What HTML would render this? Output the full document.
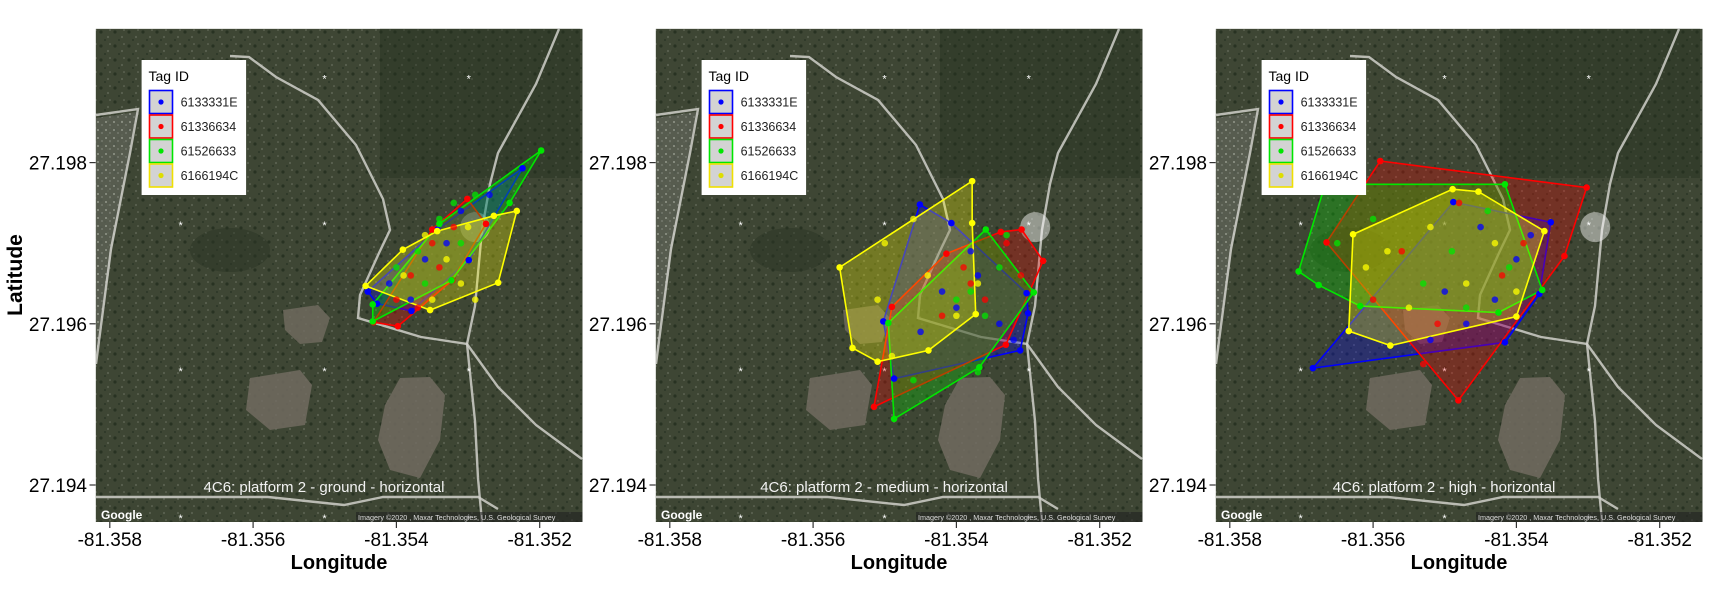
<!DOCTYPE html>
<html><head><meta charset="utf-8">
<style>
html,body{margin:0;padding:0;background:#fff;}
svg{display:block;font-family:"Liberation Sans",Arial,sans-serif;}
</style></head>
<body>
<svg id="chart" width="1712" height="595" viewBox="0 0 1712 595" xmlns="http://www.w3.org/2000/svg">
<defs>
<clipPath id="mapclip"><rect x="95.7" y="28.7" width="486.8" height="493.3"/></clipPath>
<pattern id="tex" width="14" height="14" patternUnits="userSpaceOnUse">
<rect width="14" height="14" fill="#3e4634"/>
<circle cx="3" cy="4" r="1.6" fill="#283222"/><circle cx="10" cy="9" r="1.1" fill="#5a6150"/>
<circle cx="7" cy="12" r="1" fill="#2b3626"/><circle cx="12" cy="2" r="0.8" fill="#6d7262"/>
</pattern>
<pattern id="tex2" width="8" height="8" patternUnits="userSpaceOnUse">
<rect width="8" height="8" fill="#5d6256"/>
<circle cx="2" cy="2" r="1" fill="#a8aba0"/><circle cx="6" cy="5" r="0.9" fill="#8d9086"/>
</pattern>
</defs>
<text x="22" y="275" transform="rotate(-90 22 275)" text-anchor="middle" font-size="21" font-weight="bold" fill="#000">Latitude</text>
</svg>
<script>
const panelTitles = ["4C6: platform 2 - ground - horizontal","4C6: platform 2 - medium - horizontal","4C6: platform 2 - high - horizontal"];
const panelNames = ["ground","medium","high"];
const tagIds = ["6133331E","61336634","61526633","6166194C"];
const tagColors = ["#0000ff","#ff0000","#00e600","#ffff00"];
const lonTicks = [-81.358,-81.356,-81.354,-81.352];
const latTicks = [27.198,27.196,27.194];

// convex hulls [lon,lat] per panel, order: blue, red, green, yellow
const hullsGround = [
 [[-81.35224,27.19793],[-81.35299,27.19679],[-81.35379,27.19616],[-81.35427,27.19625],[-81.35440,27.19640],[-81.35343,27.19717]],
 [[-81.35301,27.19755],[-81.35275,27.19724],[-81.35322,27.19654],[-81.35398,27.19597],[-81.35432,27.19602],[-81.35350,27.19717]],
 [[-81.35198,27.19815],[-81.35242,27.19750],[-81.35323,27.19654],[-81.35433,27.19603],[-81.35433,27.19624],[-81.35340,27.19724]],
 [[-81.35232,27.19740],[-81.35258,27.19651],[-81.35353,27.19617],[-81.35443,27.19647],[-81.35391,27.19692],[-81.35343,27.19715],[-81.35264,27.19734]]
];
const hullsMedium = [
 [[-81.35451,27.19748],[-81.35407,27.19725],[-81.35302,27.19638],[-81.35300,27.19613],[-81.35311,27.19567],[-81.35487,27.19532],[-81.35502,27.19603]],
 [[-81.35515,27.19497],[-81.35490,27.19621],[-81.35414,27.19687],[-81.35338,27.19714],[-81.35309,27.19717],[-81.35279,27.19678],[-81.35331,27.19574]],
 [[-81.35487,27.19482],[-81.35495,27.19601],[-81.35359,27.19717],[-81.35292,27.19639],[-81.35368,27.19546]],
 [[-81.35378,27.19777],[-81.35378,27.19725],[-81.35373,27.19612],[-81.35439,27.19567],[-81.35510,27.19553],[-81.35545,27.19570],[-81.35563,27.19670]]
];
const hullsHigh = [
 [[-81.35684,27.19545],[-81.35416,27.19577],[-81.35368,27.19637],[-81.35352,27.19726],[-81.35488,27.19751]],
 [[-81.35590,27.19802],[-81.35302,27.19769],[-81.35333,27.19684],[-81.35481,27.19505],[-81.35665,27.19701]],
 [[-81.35704,27.19665],[-81.35676,27.19648],[-81.35618,27.19622],[-81.35425,27.19614],[-81.35364,27.19642],[-81.35416,27.19773],[-81.35667,27.19773]],
 [[-81.35628,27.19711],[-81.35634,27.19591],[-81.35576,27.19573],[-81.35400,27.19609],[-81.35361,27.19715],[-81.35453,27.19764],[-81.35489,27.19767]]
];
// interior fixes per panel
const pointsGround = [
 [[-81.3531,27.1974],[-81.3536,27.1968],[-81.3541,27.1965],[-81.3527,27.1976],[-81.3538,27.1963],[-81.3533,27.1970]],
 [[-81.3538,27.1966],[-81.3535,27.1970],[-81.3540,27.1963],[-81.3532,27.1972],[-81.3537,27.1962],[-81.3534,27.1967]],
 [[-81.3534,27.1973],[-81.3537,27.1969],[-81.3532,27.1975],[-81.3540,27.1967],[-81.3529,27.1976],[-81.3536,27.1965],[-81.3531,27.1970]],
 [[-81.3536,27.1971],[-81.3533,27.1968],[-81.3539,27.1966],[-81.3530,27.1972],[-81.3531,27.1965],[-81.3529,27.1963],[-81.3535,27.1963]]
];
const pointsMedium = [
 [[-81.3537,27.1966],[-81.3540,27.1962],[-81.3534,27.1960],[-81.3545,27.1959],[-81.3532,27.1958],[-81.3538,27.1969],[-81.3542,27.1964]],
 [[-81.3539,27.1967],[-81.3536,27.1963],[-81.3533,27.1970],[-81.3542,27.1961],[-81.3531,27.1966],[-81.3538,27.1965]],
 [[-81.3538,27.1964],[-81.3534,27.1967],[-81.3536,27.1961],[-81.3533,27.1971],[-81.3540,27.1963],[-81.3546,27.1953],[-81.3537,27.1954]],
 [[-81.3550,27.1970],[-81.3544,27.1966],[-81.3551,27.1963],[-81.3546,27.1973],[-81.3537,27.1965],[-81.3549,27.1956],[-81.3540,27.1961]]
];
const pointsHigh = [
 [[-81.3545,27.1972],[-81.3550,27.1964],[-81.3540,27.1968],[-81.3547,27.1960],[-81.3543,27.1963],[-81.3552,27.1958],[-81.3538,27.1971]],
 [[-81.3548,27.1975],[-81.3556,27.1969],[-81.3542,27.1966],[-81.3551,27.1960],[-81.3560,27.1963],[-81.3539,27.1970],[-81.3553,27.1955]],
 [[-81.3560,27.1973],[-81.3549,27.1969],[-81.3544,27.1974],[-81.3553,27.1965],[-81.3541,27.1967],[-81.3565,27.1970],[-81.3547,27.1962]],
 [[-81.3558,27.1969],[-81.3547,27.1965],[-81.3552,27.1972],[-81.3543,27.1970],[-81.3555,27.1962],[-81.3540,27.1964],[-81.3561,27.1967]]
];
const tower = [-81.3529, 27.1972];

const allHulls = [hullsGround, hullsMedium, hullsHigh];
const allPoints = [pointsGround, pointsMedium, pointsHigh];

const NS = "http://www.w3.org/2000/svg";
const svg = document.getElementById("chart");
const PANEL_DX = 560;
function xScale(lon){ return 109.8 + (lon + 81.358) / 0.002 * 143.3; }
function yScale(lat){ return 162.6 + (27.198 - lat) / 0.002 * 161.2; }
function mk(tag, attrs, parent){
  const e = document.createElementNS(NS, tag);
  for (const k in attrs) e.setAttribute(k, attrs[k]);
  parent.appendChild(e); return e;
}

for (let p = 0; p < 3; p++) {
  const g = mk("g", {transform: "translate(" + (p * PANEL_DX) + ",0)"}, svg);
  
  

  const map = mk("g", {"clip-path": "url(#mapclip)"}, g);
  
  
  mk("rect", {x: 95.7, y: 28.7, width: 486.8, height: 493.3, fill: "url(#tex)"}, map);
  mk("path", {d: "M96,118 L136,112 L128,160 L112,250 L96,360 Z", fill: "url(#tex2)", opacity: 0.8}, map);
  mk("rect", {x: 380, y: 28, width: 200, height: 150, fill: "#24301f", opacity: 0.4}, map);
  mk("ellipse", {cx: 230, cy: 250, rx: 40, ry: 22, fill: "#2a3424", opacity: 0.5}, map);
  // lakes
  mk("path", {d: "M283,310 L318,305 L330,318 L322,342 L300,344 L285,330 Z", fill: "#6f6a5e", opacity: 0.85}, map);
  mk("path", {d: "M250,378 L300,370 L312,385 L305,425 L270,430 L246,410 Z", fill: "#716b60", opacity: 0.85}, map);
  mk("path", {d: "M400,378 L430,377 L445,395 L440,440 L420,478 L390,470 L378,440 L385,405 Z", fill: "#716b60", opacity: 0.85}, map);
  // roads
  const roads = [
    "M96,115 L138,109 L130,153 L111,249 L96,364",
    "M230,56 L249,57 L276,77 L318,100 L356,145 L383,199 L390,230 L379,253 L360,295 L358,318 L421,337 L467,344 L498,387 L536,425 L582,459",
    "M559,29 L536,84 L498,153 L490,184 L482,230 L475,306 L467,344 L475,421 L478,478 L482,522",
    "M96,497 L268,497 L344,505 L383,497 L478,497 L498,509"
  ];
  roads.forEach(function(d){ mk("path", {d: d, fill: "none", stroke: "#d0d0ca", "stroke-width": 2.4, opacity: 0.85}, map); });
  // grid asterisks
  [180.6, 324.5, 468.8].forEach(function(ax){
    [78.5, 225, 371, 518].forEach(function(ay){
      const t = mk("text", {x: ax, y: ay + 4, "text-anchor": "middle", "font-size": 11, fill: "#fff"}, map);
      t.textContent = "*";
    });
  });
  // tower
  mk("circle", {cx: xScale(tower[0]), cy: yScale(tower[1]), r: 15, fill: "#ffffff", opacity: 0.45}, map);

  // hulls
  const hulls = allHulls[p], pts = allPoints[p];
  for (let s = 0; s < 4; s++) {
    const h = hulls[s];
    const poly = mk("polygon", {points: h.map(function(v){ return xScale(v[0]) + "," + yScale(v[1]); }).join(" "),
      fill: tagColors[s], "fill-opacity": 0.28, stroke: tagColors[s], "stroke-width": 1.6}, map);
    
    
  }
  for (let s = 0; s < 4; s++) {
    const all = hulls[s].concat(pts[s]);
    all.forEach(function(v, i){
      const c = mk("circle", {cx: xScale(v[0]), cy: yScale(v[1]), r: 3.3, fill: tagColors[s], opacity: i < hulls[s].length ? 1 : 0.75}, map);
      
      
    });
  }
  // caption, attributions
  const cap = mk("text", {x: 324, y: 492, "text-anchor": "middle", "font-size": 15, fill: "#f2f2f2"}, map);
  cap.textContent = panelTitles[p];
  
  
  const gl = mk("text", {x: 101, y: 519, "font-size": 12, fill: "#fff", "font-weight": "bold"}, map);
  gl.textContent = "Google";
  
  
  mk("rect", {x: 356, y: 512, width: 227, height: 10, fill: "#222", opacity: 0.6}, map);
  const at = mk("text", {x: 358, y: 520, "font-size": 7.2, fill: "#ddd"}, map);
  at.textContent = "Imagery \u00a92020 , Maxar Technologies, U.S. Geological Survey";
  
  

  // legend
  const lg = mk("g", {}, g);
  
  
  mk("rect", {x: 141.6, y: 60, width: 104.5, height: 135, fill: "#fff"}, lg);
  const lt = mk("text", {x: 148.5, y: 81, "font-size": 14, fill: "#000"}, lg);
  lt.textContent = "Tag ID";
  for (let s = 0; s < 4; s++) {
    const ky = 90.5 + s * 24.5;
    const le = mk("g", {}, lg);
    
    
    mk("rect", {x: 149.5, y: ky, width: 23, height: 23, fill: "#d3d3d3", stroke: tagColors[s] === "#ffff00" ? "#f0e000" : tagColors[s], "stroke-width": 1.6}, le);
    mk("circle", {cx: 161, cy: ky + 11.5, r: 2.6, fill: tagColors[s] === "#ffff00" ? "#dede00" : tagColors[s]}, le);
    const tx = mk("text", {x: 180.6, y: ky + 16, "font-size": 12.5, fill: "#222"}, le);
    tx.textContent = tagIds[s];
  }

  // axes
  const ax = mk("g", {}, g);
  
  
  lonTicks.forEach(function(v){
    const x = xScale(v);
    mk("line", {x1: x, x2: x, y1: 522, y2: 528, stroke: "#333", "stroke-width": 1.2}, ax);
    const t = mk("text", {x: x, y: 546, "text-anchor": "middle", "font-size": 19, fill: "#000"}, ax);
    t.textContent = v.toFixed(3);
  });
  const xt = mk("text", {x: 339, y: 569, "text-anchor": "middle", "font-size": 20, "font-weight": "bold", fill: "#000"}, g);
  xt.textContent = "Longitude";
  
  
  const ay = mk("g", {}, g);
  
  
  latTicks.forEach(function(v){
    const y = yScale(v);
    mk("line", {x1: 89.5, x2: 95.7, y1: y, y2: y, stroke: "#333", "stroke-width": 1.2}, ay);
    const t = mk("text", {x: 87, y: y + 7, "text-anchor": "end", "font-size": 19, fill: "#000"}, ay);
    t.textContent = v.toFixed(3);
  });
}
</script>
</body></html>
